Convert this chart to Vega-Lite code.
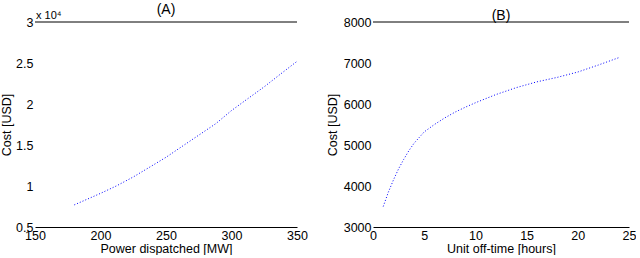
{
  "$schema": "https://vega.github.io/schema/vega-lite/v6.json",
  "padding": {"left": 0, "top": 3, "right": 0, "bottom": 0},
  "background": "white",
  "spacing": 18,
  "config": {
    "font": "Liberation Sans",
    "view": {"stroke": null},
    "axis": {
      "grid": false,
      "ticks": false,
      "labelFlush": false,
      "labelFont": "Liberation Sans",
      "titleFont": "Liberation Sans",
      "labelFontSize": 12.5,
      "titleFontSize": 12.5,
      "titleFontWeight": "normal",
      "labelColor": "#000",
      "titleColor": "#000",
      "domainColor": "#000",
      "labelPadding": 2
    },
    "title": {"font": "Liberation Sans", "fontSize": 14, "fontWeight": "normal", "color": "#000", "offset": -7}
  },
  "datasets": {
    "a": [
      {"power": 180, "cost": 7700},
      {"power": 190, "cost": 8400},
      {"power": 200, "cost": 9100},
      {"power": 212, "cost": 10000},
      {"power": 225, "cost": 11100},
      {"power": 237, "cost": 12250},
      {"power": 250, "cost": 13500},
      {"power": 262, "cost": 14800},
      {"power": 275, "cost": 16200},
      {"power": 288, "cost": 17600},
      {"power": 300, "cost": 19200},
      {"power": 312, "cost": 20600},
      {"power": 325, "cost": 22100},
      {"power": 337, "cost": 23600},
      {"power": 350, "cost": 25200}
    ],
    "b": [
      {"off": 1, "cost": 3500},
      {"off": 1.5, "cost": 3850},
      {"off": 2, "cost": 4150},
      {"off": 2.5, "cost": 4420},
      {"off": 3, "cost": 4650},
      {"off": 3.5, "cost": 4860},
      {"off": 4, "cost": 5040},
      {"off": 4.5, "cost": 5180},
      {"off": 5, "cost": 5320},
      {"off": 6, "cost": 5500},
      {"off": 7, "cost": 5660},
      {"off": 8, "cost": 5800},
      {"off": 9, "cost": 5920},
      {"off": 10, "cost": 6030},
      {"off": 12, "cost": 6230},
      {"off": 14, "cost": 6400},
      {"off": 16, "cost": 6540},
      {"off": 18, "cost": 6650},
      {"off": 20, "cost": 6780},
      {"off": 22, "cost": 6950},
      {"off": 24, "cost": 7130}
    ]
  },
  "hconcat": [
    {
      "width": 262,
      "height": 205,
      "title": "(A)",
      "layer": [
        {
          "data": {"name": "a"},
          "mark": {"type": "line", "color": "#0000ff", "strokeWidth": 1, "strokeDash": [1, 2]},
          "encoding": {
            "x": {"field": "power", "type": "quantitative", "scale": {"domain": [150, 350], "nice": false}, "axis": {"title": "Power dispatched [MW]", "values": [150, 200, 250, 300, 350], "titlePadding": 1}},
            "y": {"field": "cost", "type": "quantitative", "scale": {"domain": [5000, 30000], "nice": false}, "axis": {"title": "Cost [USD]", "domain": false, "values": [5000, 10000, 15000, 20000, 25000, 30000], "labelExpr": "format(datum.value/10000, '')", "titlePadding": 2}}
          }
        },
        {
          "data": {"values": [{}]},
          "mark": {"type": "rule", "color": "#000", "strokeWidth": 1},
          "encoding": {"y": {"datum": 30000}}
        },
        {
          "data": {"values": [{}]},
          "mark": {"type": "text", "text": "x 10⁴", "align": "left", "baseline": "bottom", "dx": 1, "dy": -1, "fontSize": 11, "font": "Liberation Sans"},
          "encoding": {"x": {"datum": 150}, "y": {"datum": 30000}}
        }
      ]
    },
    {
      "width": 256,
      "height": 205,
      "title": "(B)",
      "layer": [
        {
          "data": {"name": "b"},
          "mark": {"type": "line", "color": "#0000ff", "strokeWidth": 1, "strokeDash": [1, 2]},
          "encoding": {
            "x": {"field": "off", "type": "quantitative", "scale": {"domain": [0, 25], "nice": false}, "axis": {"title": "Unit off-time [hours]", "values": [0, 5, 10, 15, 20, 25], "titlePadding": 1}},
            "y": {"field": "cost", "type": "quantitative", "scale": {"domain": [3000, 8000], "nice": false}, "axis": {"title": "Cost [USD]", "domain": false, "values": [3000, 4000, 5000, 6000, 7000, 8000], "format": "d", "titlePadding": 4}}
          }
        },
        {
          "data": {"values": [{}]},
          "mark": {"type": "rule", "color": "#000", "strokeWidth": 1},
          "encoding": {"y": {"datum": 8000}}
        }
      ]
    }
  ]
}
